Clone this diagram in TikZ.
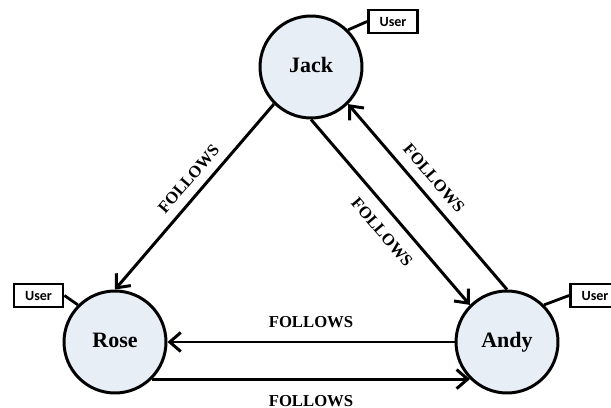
\documentclass[tikz,border=0pt]{standalone}
\usepackage{fontspec}
\setmainfont{Liberation Serif}
\newfontfamily\tagfont{Carlito}
\usetikzlibrary{arrows.meta}
\definecolor{nodefill}{RGB}{231,238,246}

\begin{document}
\begin{tikzpicture}[>={Straight Barb[length=2.2mm,width=3.8mm]}, x=0.02cm, y=-0.02cm,
		person/.style={circle, draw, line width=1.7pt, fill=nodefill, minimum size=2.04cm, inner sep=0pt, text height=1.7ex, text depth=0.4ex, font=\fontsize{12.5}{14}\selectfont\bfseries},
		userbox/.style={rectangle, draw, line width=1.6pt, fill=white, minimum width=0.98cm, minimum height=0.46cm, inner sep=0pt, font=\tagfont\fontsize{8}{9}\selectfont\bfseries},
		rel/.style={->, line width=1.7pt},
		lbl/.style={font=\fontsize{9.5}{11}\selectfont\bfseries, inner sep=3pt}]
			% Fix the picture size to the reference
			\useasboundingbox (0,0) rectangle (611,408);

			% Users
			\node[person] (jack) at (311,67) {Jack};
			\node[person] (rose) at (115,342) {Rose};
			\node[person] (andy) at (507,342) {Andy};

			% Macro for a label box hooked to a user.
			% Usage: \usertag{name}{position}{user anchor}{box anchor}
			\newcommand{\usertag}[4]{
				\node[userbox] (#1) at (#2) {User};
				\draw[line width=1.6pt] (#3) -- (#1.#4);
			}

			\usertag{jacktag}{393,21.5}{jack.45}{west};
			\usertag{rosetag}{38.5,295.5}{rose.135}{east};
			\usertag{andytag}{595,295.5}{andy.45}{west};

			% Relations
			\draw[rel] (jack.225) -- (rose.90) node[lbl, sloped, above=2pt, pos=0.46] (f1) {FOLLOWS};
			\draw[rel] (jack.270) -- (andy.135) node[lbl, sloped, below=4pt, pos=0.54] (f2) {FOLLOWS};
			\draw[rel] (andy.90) -- (jack.-45) node[lbl, sloped, above=2.5pt, pos=0.54] (f3) {FOLLOWS};
			\draw[rel] (andy.180) -- (rose.0) node[lbl, above=4.3pt, midway] (f4) {FOLLOWS};
			\draw[rel] (rose.-45) -- (andy.225) node[lbl, below=5.2pt, midway] (f5) {FOLLOWS};
		\end{tikzpicture}
\end{document}
